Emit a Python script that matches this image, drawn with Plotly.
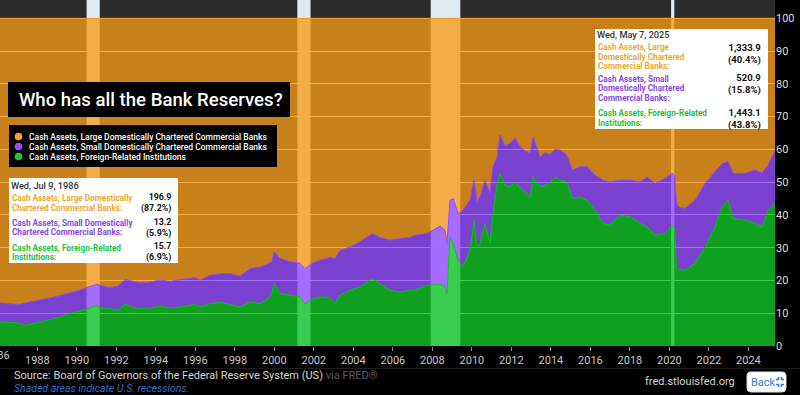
import plotly.graph_objects as go

# ---------------- data (shares of total cash assets, %) ----------------
dates = [
    "1986-02-10", "1986-08-15", "1987-02-14", "1987-05-19", "1987-09-24", "1988-02-21", "1988-11-24", "1989-08-28", "1990-02-28", "1990-07-27",
    "1991-01-08", "1991-03-07", "1991-09-06", "1992-02-03", "1992-06-10", "1992-10-19", "1993-03-15", "1993-09-17", "1994-03-18", "1994-09-20",
    "1995-03-24", "1995-09-24", "1995-12-24", "1996-03-28", "1996-09-27", "1997-04-02", "1997-10-05", "1998-04-06", "1998-10-08", "1999-04-12",
    "1999-09-05", "1999-11-17", "1999-12-24", "2000-04-16", "2000-10-16", "2001-04-20", "2001-07-20", "2001-11-29", "2002-04-23", "2002-10-27",
    "2003-01-27", "2003-05-01", "2003-10-31", "2004-05-05", "2004-12-13", "2005-05-08", "2005-11-10", "2006-05-12", "2006-11-13", "2007-02-14",
    "2007-09-24", "2008-05-22", "2008-08-22", "2008-09-28", "2008-11-22", "2009-01-19", "2009-04-20", "2009-07-20", "2009-11-29", "2010-02-10",
    "2010-04-05", "2010-05-31", "2010-09-02", "2010-12-02", "2011-01-26", "2011-04-12", "2011-06-06", "2011-09-06", "2011-12-06", "2012-03-10",
    "2012-06-10", "2012-09-09", "2012-12-13", "2013-02-06", "2013-06-14", "2013-09-17", "2013-12-17", "2014-03-18", "2014-06-21", "2014-10-27",
    "2015-01-30", "2015-06-25", "2015-10-31", "2016-03-28", "2016-08-22", "2017-01-01", "2017-07-02", "2018-01-04", "2018-07-09", "2018-11-14",
    "2019-04-13", "2019-10-13", "2020-02-21", "2020-04-10", "2020-05-10", "2020-06-15", "2020-10-16", "2021-04-20", "2021-10-23", "2022-04-23",
    "2022-09-02", "2022-12-20", "2023-03-26", "2023-10-31", "2024-05-05", "2024-09-09", "2025-01-01", "2025-05-07",
]

foreign_pct = [
    7.3, 7.2, 7.0, 6.3, 6.8, 7.3, 8.4, 9.9, 10.6, 11.4,
    12.4, 11.7, 11.4, 11.0, 12.7, 11.9, 11.4, 11.6, 12.1, 11.6,
    11.9, 12.4, 12.7, 11.9, 12.9, 13.3, 12.7, 11.9, 13.4, 12.9,
    14.5, 16.0, 19.2, 16.0, 15.5, 15.0, 12.7, 14.2, 15.0, 14.8,
    12.9, 15.5, 17.0, 18.0, 20.6, 19.1, 17.0, 16.5, 17.0, 17.0,
    18.5, 18.8, 18.0, 16.0, 33.3, 31.3, 26.2, 24.1, 29.2, 38.4,
    30.0, 31.3, 37.4, 31.3, 40.4, 49.1, 52.7, 49.0, 48.6, 50.0,
    48.6, 47.0, 45.5, 51.6, 48.6, 49.0, 50.0, 51.5, 50.6, 50.1,
    45.0, 45.5, 44.5, 41.4, 37.4, 36.9, 39.9, 39.4, 37.4, 36.3,
    33.8, 34.3, 36.9, 36.0, 24.0, 23.5, 23.1, 25.2, 30.2, 36.3,
    42.5, 44.5, 38.9, 38.4, 37.4, 36.3, 41.4, 43.8,
]

small_pct = [
    5.8, 5.8, 5.7, 6.8, 6.7, 6.7, 6.6, 6.3, 6.4, 6.6,
    6.4, 6.8, 6.4, 7.2, 7.6, 7.9, 7.8, 7.9, 8.0, 8.1,
    8.4, 8.2, 8.2, 8.2, 8.7, 8.7, 9.4, 9.4, 10.2, 11.2,
    10.5, 9.7, 9.5, 10.7, 10.2, 10.2, 10.9, 11.0, 11.2, 12.2,
    13.8, 13.7, 13.2, 13.8, 13.7, 14.0, 15.3, 16.3, 16.1, 16.8,
    15.8, 17.8, 17.3, 15.3, 11.2, 13.7, 14.2, 17.3, 15.3, 12.2,
    14.0, 14.2, 13.2, 15.2, 14.3, 8.6, 11.7, 12.0, 13.2, 13.5,
    12.2, 12.5, 13.3, 12.2, 9.1, 10.0, 8.5, 8.5, 9.2, 8.1,
    8.7, 9.2, 10.2, 10.7, 13.2, 13.2, 10.7, 11.2, 12.7, 15.2,
    15.8, 16.8, 15.8, 16.0, 20.0, 19.0, 18.9, 19.3, 19.4, 16.9,
    13.2, 11.7, 13.8, 14.3, 16.3, 16.4, 13.8, 15.8,
]

large_pct = [
    86.9, 87.0, 87.3, 86.9, 86.5, 86.0, 85.0, 83.8, 83.0, 82.0,
    81.2, 81.5, 82.2, 81.8, 79.7, 80.2, 80.8, 80.5, 79.9, 80.3,
    79.7, 79.4, 79.1, 79.9, 78.4, 78.0, 77.9, 78.7, 76.4, 75.9,
    75.0, 74.3, 71.3, 73.3, 74.3, 74.8, 76.4, 74.8, 73.8, 73.0,
    73.3, 70.8, 69.8, 68.2, 65.7, 66.9, 67.7, 67.2, 66.9, 66.2,
    65.7, 63.4, 64.7, 68.7, 55.5, 55.0, 59.6, 58.6, 55.5, 49.4,
    56.0, 54.5, 49.4, 53.5, 45.3, 42.3, 35.6, 39.0, 38.2, 36.5,
    39.2, 40.5, 41.2, 36.2, 42.3, 41.0, 41.5, 40.0, 40.2, 41.8,
    46.3, 45.3, 45.3, 47.9, 49.4, 49.9, 49.4, 49.4, 49.9, 48.5,
    50.4, 48.9, 47.3, 48.0, 56.0, 57.5, 58.0, 55.5, 50.4, 46.8,
    44.3, 43.8, 47.3, 47.3, 46.3, 47.3, 44.8, 40.4,
]

series_names = [
    "Cash Assets, Large Domestically Chartered Commercial Banks",
    "Cash Assets, Small Domestically Chartered Commercial Banks",
    "Cash Assets, Foreign-Related Institutions",
]

recessions = [("1990-07-01", "1991-03-01"), ("2001-03-01", "2001-11-01"),
              ("2007-12-01", "2009-06-01"), ("2020-02-01", "2020-04-01")]

tick_years = list(range(1988, 2025, 2))
y_ticks = list(range(0, 101, 10))

# ---------------- layout geometry ----------------
W, H = 800, 395
MR, MB = 25, 49
PW, PH = W - MR, H - MB

def px(x):
    return x / PW

def py(y):
    return 1 - y / PH

FONT = "Roboto"
ORANGE, PURPLE, GREEN = (247, 155, 21), (146, 70, 255), (8, 195, 29)
ALPHA = 0.77

def rgba(c, a):
    return f"rgba({c[0]},{c[1]},{c[2]},{a})"

fig = go.Figure()
for vals, col, name in [(foreign_pct, GREEN, series_names[2]),
                        (small_pct, PURPLE, series_names[1]),
                        (large_pct, ORANGE, series_names[0])]:
    fig.add_trace(go.Scatter(
        x=dates, y=vals, name=name, mode="lines", stackgroup="one",
        line=dict(color=rgba(col, 1), width=1),
        fillcolor=rgba(col, ALPHA), hoverinfo="skip", showlegend=False,
    ))

shapes = []
for a, b in recessions:
    shapes.append(dict(type="rect", xref="x", yref="paper", x0=a, x1=b, y0=0, y1=1,
                       fillcolor="#e1e9f0", line=dict(width=0), layer="below"))

def rect(x0, y0, x1, y1, fill, line=None):
    return dict(type="rect", xref="paper", yref="paper", x0=px(x0), x1=px(x1),
                y0=py(y1), y1=py(y0), fillcolor=fill,
                line=line or dict(width=0), layer="above")

# title, legend, tooltips
shapes.append(rect(8, 82, 290, 117, "#000000"))
shapes.append(rect(9, 125, 277, 167, "#000000"))
shapes.append(rect(9, 178, 178, 263, "#ffffff"))
shapes.append(rect(595, 29, 768, 129, "#ffffff"))
# separator in footer
shapes.append(dict(type="line", xref="paper", yref="paper", x0=px(0), x1=px(800),
                   y0=py(368.5), y1=py(368.5), line=dict(color="#1e1e1e", width=1)))

leg_colors = ["#f5a526", "#9650f5", "#1ec83a"]
leg_y = [136.5, 146.5, 156.5]
for c, yy in zip(leg_colors, leg_y):
    r = 3.8
    shapes.append(dict(type="circle", xref="paper", yref="paper",
                       x0=px(18.5 - r), x1=px(18.5 + r), y0=py(yy + r), y1=py(yy - r),
                       fillcolor=c, line=dict(width=0), layer="above"))

# Back button (rounded rect)
bx0, by0, bx1, by1, rr = 747, 372, 786, 392, 4
def P(x, y):
    return f"{px(x):.5f},{py(y):.5f}"
path = (f"M {P(bx0 + rr, by0)} L {P(bx1 - rr, by0)} Q {P(bx1, by0)} {P(bx1, by0 + rr)} "
        f"L {P(bx1, by1 - rr)} Q {P(bx1, by1)} {P(bx1 - rr, by1)} L {P(bx0 + rr, by1)} "
        f"Q {P(bx0, by1)} {P(bx0, by1 - rr)} L {P(bx0, by0 + rr)} Q {P(bx0, by0)} {P(bx0 + rr, by0)} Z")
shapes.append(dict(type="path", xref="paper", yref="paper", path=path,
                   fillcolor="#ffffff", line=dict(color="#cfe0f5", width=1), layer="above"))
icon_paths = [
    [(776, 379.5), (778.5, 379.5), (778.5, 377)],
    [(781.5, 377), (781.5, 379.5), (784, 379.5)],
    [(776, 384.5), (778.5, 384.5), (778.5, 387)],
    [(781.5, 387), (781.5, 384.5), (784, 384.5)],
]
for pts in icon_paths:
    d = "M " + " L ".join(P(x, y) for x, y in pts)
    shapes.append(dict(type="path", xref="paper", yref="paper", path=d,
                       line=dict(color="#3a78d0", width=1.6), layer="above"))

annotations = []

def ann(text, x, y, size, color, xanchor="left", weight="normal", style="normal", family=FONT):
    annotations.append(dict(text=text, x=px(x), y=py(y), xref="paper", yref="paper",
                            xanchor=xanchor, yanchor="middle", showarrow=False,
                            font=dict(size=size, color=color, family=family,
                                      weight=weight, style=style)))

def value_pair(txt, x, y, size):
    annotations.append(dict(text=txt, x=px(x), y=py(y), xref="paper", yref="paper",
                            xanchor="right", yanchor="middle", align="right", showarrow=False,
                            font=dict(size=size, color="#111111", family=FONT, weight="bold")))

ann("Who has all the Bank Reserves?", 17, 100, 18.6, "#ffffff", weight=500)
for name, yy in zip(series_names, leg_y):
    ann(name, 27, yy, 8.5, "#ffffff", weight=500)

# tooltip 1986
tip_orange, tip_purple, tip_green = "#f0a832", "#8a48e8", "#26c23c"
LF = 8.2
ann("Wed, Jul 9, 1986", 8.5, 185, 9.2, "#333333", weight=500)
ann("Cash Assets, Large Domestically", 10, 198, LF, tip_orange, weight="bold")
ann("Chartered Commercial Banks:", 10, 207.5, LF, tip_orange, weight="bold")
ann("Cash Assets, Small Domestically", 10, 223, LF, tip_purple, weight="bold")
ann("Chartered Commercial Banks:", 10, 232.5, LF, tip_purple, weight="bold")
ann("Cash Assets, Foreign-Related", 10, 247.5, LF, tip_green, weight="bold")
ann("Institutions:", 10, 257, LF, tip_green, weight="bold")
value_pair("196.9<br>(87.2%)", 173, 202.8, 8.8)
value_pair("13.2<br>(5.9%)", 173, 227.8, 8.8)
value_pair("15.7<br>(6.9%)", 173, 252.3, 8.8)

# tooltip 2025
ann("Wed, May 7, 2025", 595, 34.5, 9.2, "#333333", weight=500)
for txt, yy, c in [("Cash Assets, Large", 47, tip_orange), ("Domestically Chartered", 56.7, tip_orange),
                   ("Commercial Banks:", 66.3, tip_orange),
                   ("Cash Assets, Small", 78.7, tip_purple), ("Domestically Chartered", 88.3, tip_purple),
                   ("Commercial Banks:", 98, tip_purple),
                   ("Cash Assets, Foreign-Related", 113.3, tip_green), ("Institutions:", 123, tip_green)]:
    ann(txt, 596, yy, LF, c, weight="bold")
value_pair("1,333.9<br>(40.4%)", 763, 53.8, 9.5)
value_pair("520.9<br>(15.8%)", 763, 84.5, 9.5)
value_pair("1,443.1<br>(43.8%)", 763, 118.7, 9.5)

# partially visible first tick label
ann("1986", -2.2, 355.5, 11, "#c8c8c8", xanchor="center")

# footer
ann('Source: Board of Governors of the Federal Reserve System (US) '
    '<span style="color:#5a5a5a">via FRED®</span>', 12, 375.5, 11, "#d2d2d2")
ann("Shaded areas indicate U.S. recessions.", 12, 389, 10.5, "#2f6fc4", style="italic")
ann("fred.stlouisfed.org", 643, 381.5, 11, "#d2d2d2")
ann("Back", 749, 382, 11, "#3a78d0")

fig.update_layout(
    width=W, height=H,
    margin=dict(l=0, r=MR, t=0, b=MB, pad=0),
    paper_bgcolor="#000000", plot_bgcolor="#2b2b2b",
    font=dict(family=FONT, color="#d0d0d0"),
    showlegend=False,
    shapes=shapes, annotations=annotations,
    xaxis=dict(type="date", range=["1986-02-10", "2025-05-07"],
               tickvals=[f"{y}-01-01" for y in tick_years],
               ticktext=[str(y) for y in tick_years],
               ticks="outside", ticklen=4, tickcolor="#8a8a8a", tickwidth=1,
               tickfont=dict(size=11, color="#c8c8c8", family=FONT),
               showgrid=False, zeroline=False, showline=False, fixedrange=True),
    yaxis=dict(range=[0, 105.6], side="right", tickvals=y_ticks,
               ticks="", tickfont=dict(size=11, color="#dcdcdc", family=FONT),
               showgrid=True, gridcolor="#e8e8e8", gridwidth=1,
               zeroline=False, showline=False, fixedrange=True),
)

fig.write_html("out.html", config={"displayModeBar": False, "staticPlot": True},
               post_script="document.body.style.margin='0';document.body.style.background='#000';")
